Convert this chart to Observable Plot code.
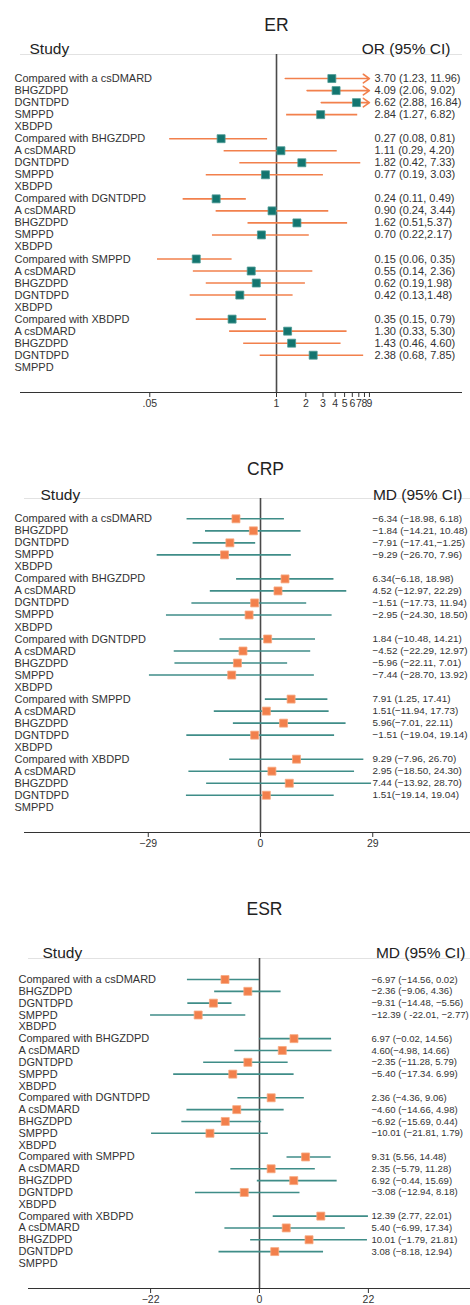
<!DOCTYPE html>
<html>
<head>
<meta charset="utf-8">
<script src="https://cdn.jsdelivr.net/npm/d3@7"></script>
<script src="https://cdn.jsdelivr.net/npm/@observablehq/plot@0.6"></script>
<style>
  html, body { margin: 0; padding: 0; background: #fff; }
  #chart svg { display: block; }
</style>
</head>
<body>
<div id="chart"></div>
<script>
// ---------- data ----------
const rowLabels = [
  "Compared with a csDMARD", "BHGZDPD", "DGNTDPD", "SMPPD", "XBDPD",
  "Compared with BHGZDPD", "A csDMARD", "DGNTDPD", "SMPPD", "XBDPD",
  "Compared with DGNTDPD", "A csDMARD", "BHGZDPD", "SMPPD", "XBDPD",
  "Compared with SMPPD", "A csDMARD", "BHGZDPD", "DGNTDPD", "XBDPD",
  "Compared with XBDPD", "A csDMARD", "BHGZDPD", "DGNTDPD", "SMPPD"
];

// ER (odds ratio)
const erEst = [3.70, 4.09, 6.62, 2.84, 0.27, 1.11, 1.82, 0.77, 0.24, 0.90, 1.62, 0.70, 0.15, 0.55, 0.62, 0.42, 0.35, 1.30, 1.43, 2.38];
const erLo  = [1.23, 2.06, 2.88, 1.27, 0.08, 0.29, 0.42, 0.19, 0.11, 0.24, 0.51, 0.22, 0.06, 0.14, 0.19, 0.13, 0.15, 0.33, 0.46, 0.68];
const erHi  = [11.96, 9.02, 16.84, 6.82, 0.81, 4.20, 7.33, 3.03, 0.49, 3.44, 5.37, 2.17, 0.35, 2.36, 1.98, 1.48, 0.79, 5.30, 4.60, 7.85];
const erText = [
  "3.70 (1.23, 11.96)", "4.09 (2.06, 9.02)", "6.62 (2.88, 16.84)", "2.84 (1.27, 6.82)",
  "0.27 (0.08, 0.81)", "1.11 (0.29, 4.20)", "1.82 (0.42, 7.33)", "0.77 (0.19, 3.03)",
  "0.24 (0.11, 0.49)", "0.90 (0.24, 3.44)", "1.62 (0.51,5.37)", "0.70 (0.22,2.17)",
  "0.15 (0.06, 0.35)", "0.55 (0.14, 2.36)", "0.62 (0.19,1.98)", "0.42 (0.13,1.48)",
  "0.35 (0.15, 0.79)", "1.30 (0.33, 5.30)", "1.43 (0.46, 4.60)", "2.38 (0.68, 7.85)"
];
const erTicks = [0.05, 1, 2, 3, 4, 5, 6, 7, 8, 9];
const erTickLabels = [".05", "1", "2", "3", "4", "5", "6", "7", "8", "9"];
const erCap = 9;

// CRP (mean difference)
const crpEst = [-6.34, -1.84, -7.91, -9.29, 6.34, 4.52, -1.51, -2.95, 1.84, -4.52, -5.96, -7.44, 7.91, 1.51, 5.96, -1.51, 9.29, 2.95, 7.44, 1.51];
const crpLo  = [-18.98, -14.21, -17.41, -26.70, -6.18, -12.97, -17.73, -24.30, -10.48, -22.29, -22.11, -28.70, 1.25, -11.94, -7.01, -19.04, -7.96, -18.50, -13.92, -19.14];
const crpHi  = [6.18, 10.48, -1.25, 7.96, 18.98, 22.29, 11.94, 18.50, 14.21, 12.97, 7.01, 13.92, 17.41, 17.73, 22.11, 19.14, 26.70, 24.30, 28.70, 19.04];
const crpText = [
  "\u22126.34 (\u221218.98, 6.18)", "\u22121.84 (\u221214.21, 10.48)", "\u22127.91 (\u221217.41,\u22121.25)", "\u22129.29 (\u221226.70, 7.96)",
  "6.34(\u22126.18, 18.98)", "4.52 (\u221212.97, 22.29)", "\u22121.51 (\u221217.73, 11.94)", "\u22122.95 (\u221224.30, 18.50)",
  "1.84 (\u221210.48, 14.21)", "\u22124.52 (\u221222.29, 12.97)", "\u22125.96 (\u221222.11, 7.01)", "\u22127.44 (\u221228.70, 13.92)",
  "7.91 (1.25, 17.41)", "1.51(\u221211.94, 17.73)", "5.96(\u22127.01, 22.11)", "\u22121.51 (\u221219.04, 19.14)",
  "9.29 (\u22127.96, 26.70)", "2.95 (\u221218.50, 24.30)", "7.44 (\u221213.92, 28.70)", "1.51(\u221219.14, 19.04)"
];
const crpTicks = [-29, 0, 29];
const crpTickLabels = ["\u221229", "0", "29"];

// ESR (mean difference)
const esrEst = [-6.97, -2.36, -9.31, -12.39, 6.97, 4.60, -2.35, -5.40, 2.36, -4.60, -6.92, -10.01, 9.31, 2.35, 6.92, -3.08, 12.39, 5.40, 10.01, 3.08];
const esrLo  = [-14.56, -9.06, -14.48, -22.01, -0.02, -4.98, -11.28, -17.34, -4.36, -14.66, -15.69, -21.81, 5.56, -5.79, -0.44, -12.94, 2.77, -6.99, -1.79, -8.18];
const esrHi  = [0.02, 4.36, -5.56, -2.77, 14.56, 14.66, 5.79, 6.99, 9.06, 4.98, 0.44, 1.79, 14.48, 11.28, 15.69, 8.18, 22.01, 17.34, 21.81, 12.94];
const esrText = [
  "\u22126.97 (\u221214.56, 0.02)", "\u22122.36 (\u22129.06, 4.36)", "\u22129.31 (\u221214.48, \u22125.56)", "\u221212.39 ( -22.01, \u22122.77)",
  "6.97 (\u22120.02, 14.56)", "4.60(\u22124.98, 14.66)", "\u22122.35 (\u221211.28, 5.79)", "\u22125.40 (\u221217.34. 6.99)",
  "2.36 (\u22124.36, 9.06)", "\u22124.60 (\u221214.66, 4.98)", "\u22126.92 (\u221215.69, 0.44)", "\u221210.01 (\u221221.81, 1.79)",
  "9.31 (5.56, 14.48)", "2.35 (\u22125.79, 11.28)", "6.92 (\u22120.44, 15.69)", "\u22123.08 (\u221212.94, 8.18)",
  "12.39 (2.77, 22.01)", "5.40 (\u22126.99, 17.34)", "10.01 (\u22121.79, 21.81)", "3.08 (\u22128.18, 12.94)"
];
const esrTicks = [-22, 0, 22];
const esrTickLabels = ["\u221222", "0", "22"];

// ---------- build ----------
const FONT = "'Liberation Sans', Arial, Helvetica, sans-serif";
const TEXT = "#333";
const ORANGE = "#f2804c";
const TEAL = "#13756f";
const TEAL_LINE = "#3f8d88";

function makeRows(est, lo, hi, text) {
  return est.map((e, i) => ({
    row: Math.floor(i / 4) * 5 + (i % 4),
    est: e, lo: lo[i], hi: hi[i], text: text[i]
  }));
}

function panel(cfg) {
  const rows = makeRows(cfg.est, cfg.lo, cfg.hi, cfg.text);
  const labels = rowLabels.map((l, i) => ({row: i, label: l}));
  const ticks = cfg.ticks.map((t, i) => ({value: t, label: cfg.tickLabels[i]}));
  const cap = cfg.cap;
  const plain = cap ? rows.filter(d => d.hi <= cap) : rows;
  const capped = cap ? rows.filter(d => d.hi > cap) : [];
  return Plot.plot({
    width: 470,
    height: cfg.height,
    marginTop: cfg.mt, marginBottom: cfg.mb, marginLeft: cfg.ml, marginRight: cfg.mr,
    style: {fontFamily: FONT, fontSize: "11px", color: TEXT, background: "#fff", overflow: "visible"},
    x: {type: cfg.type, domain: cfg.xDomain},
    y: {domain: cfg.yDomain, reverse: true, axis: null},
    marks: [
      Plot.ruleY([cfg.yDomain[0]], {stroke: "#e2e2e2", strokeWidth: 1.2}),
      Plot.ruleY([cfg.yDomain[1]], {stroke: "#333", strokeWidth: 1.2}),
      Plot.ruleX([cfg.ref], {stroke: "#4a4a4a", strokeWidth: 1.6}),
      Plot.axisX({ticks: cfg.ticks, tickFormat: () => "", tickSize: 5, stroke: "#333"}),
      Plot.text(ticks, {x: "value", text: "label", frameAnchor: "bottom", dy: 14,
        fontSize: 10.5, fill: TEXT}),
      Plot.text([cfg.title], {x: [cfg.ref], frameAnchor: "top", dy: cfg.titleDy, dx: cfg.titleDx,
        text: d => d, fontSize: 17.5, fill: "#222"}),
      Plot.text(["Study"], {frameAnchor: "top-left", dx: cfg.studyDx, dy: cfg.headDy,
        text: d => d, textAnchor: "start", fontSize: 15.5, fill: "#222"}),
      Plot.text([cfg.effect], {frameAnchor: "top-right", dx: cfg.effectDx, dy: cfg.headDy,
        text: d => d, textAnchor: "end", fontSize: 15.5, fill: "#222"}),
      Plot.text(labels, {y: "row", text: "label", frameAnchor: "left", textAnchor: "start",
        dx: cfg.labelDx, fontSize: 11, fill: TEXT}),
      Plot.ruleY(plain, {x1: "lo", x2: "hi", y: "row", stroke: cfg.lineColor, strokeWidth: 1.6}),
      Plot.arrow(capped, {x1: "lo", x2: () => cap, y1: "row", y2: "row", stroke: cfg.lineColor,
        strokeWidth: 1.6, headLength: 7, headAngle: 70, bend: 0}),
      Plot.dot(rows, {x: "est", y: "row", symbol: "square", r: 4.5, fill: cfg.dotColor,
        stroke: cfg.dotStroke, strokeWidth: 0.8}),
      Plot.text(rows, {y: "row", text: "text", frameAnchor: "right", textAnchor: "start",
        dx: cfg.valueDx, fontSize: cfg.valueSize, fill: TEXT})
    ]
  });
}

const chart = document.getElementById("chart");

// ER: log scale, 1 at x=276
chart.append(panel({
  title: "ER", effect: "OR (95% CI)", type: "log", ref: 1,
  est: erEst, lo: erLo, hi: erHi, text: erText, cap: erCap,
  ticks: erTicks, tickLabels: erTickLabels,
  height: 430, mt: 54, mb: 38, ml: 20, mr: 8,
  xDomain: [0.002353, 81.2], yDomain: [-2, 26.1],
  titleDy: -36, titleDx: 0, headDy: -12, studyDx: 9, effectDx: -12,
  labelDx: -6, valueDx: -88, valueSize: 11,
  lineColor: ORANGE, dotColor: TEAL, dotStroke: "#4e9b96"
}));

// CRP
chart.append(panel({
  title: "CRP", effect: "MD (95% CI)", type: "linear", ref: 0,
  est: crpEst, lo: crpLo, hi: crpHi, text: crpText,
  ticks: crpTicks, tickLabels: crpTickLabels,
  height: 430, mt: 68, mb: 28, ml: 24, mr: 0,
  xDomain: [-60.98, 54.26], yDomain: [-1.69, 26.1],
  titleDy: -36, titleDx: 5, headDy: -10, studyDx: 16, effectDx: -8,
  labelDx: -10, valueDx: -98, valueSize: 9.9,
  lineColor: TEAL_LINE, dotColor: ORANGE, dotStroke: "#f8aa82"
}));

// ESR
chart.append(panel({
  title: "ESR", effect: "MD (95% CI)", type: "linear", ref: 0,
  est: esrEst, lo: esrLo, hi: esrHi, text: esrText,
  ticks: esrTicks, tickLabels: esrTickLabels,
  height: 445, mt: 98, mb: 17, ml: 28, mr: 0,
  xDomain: [-46.67, 42.63], yDomain: [-1.775, 26.12],
  titleDy: -56, titleDx: 5, headDy: -12, studyDx: 14, effectDx: -5,
  labelDx: -10, valueDx: -99, valueSize: 9.5,
  lineColor: TEAL_LINE, dotColor: ORANGE, dotStroke: "#f8aa82"
}));
</script>
</body>
</html>
